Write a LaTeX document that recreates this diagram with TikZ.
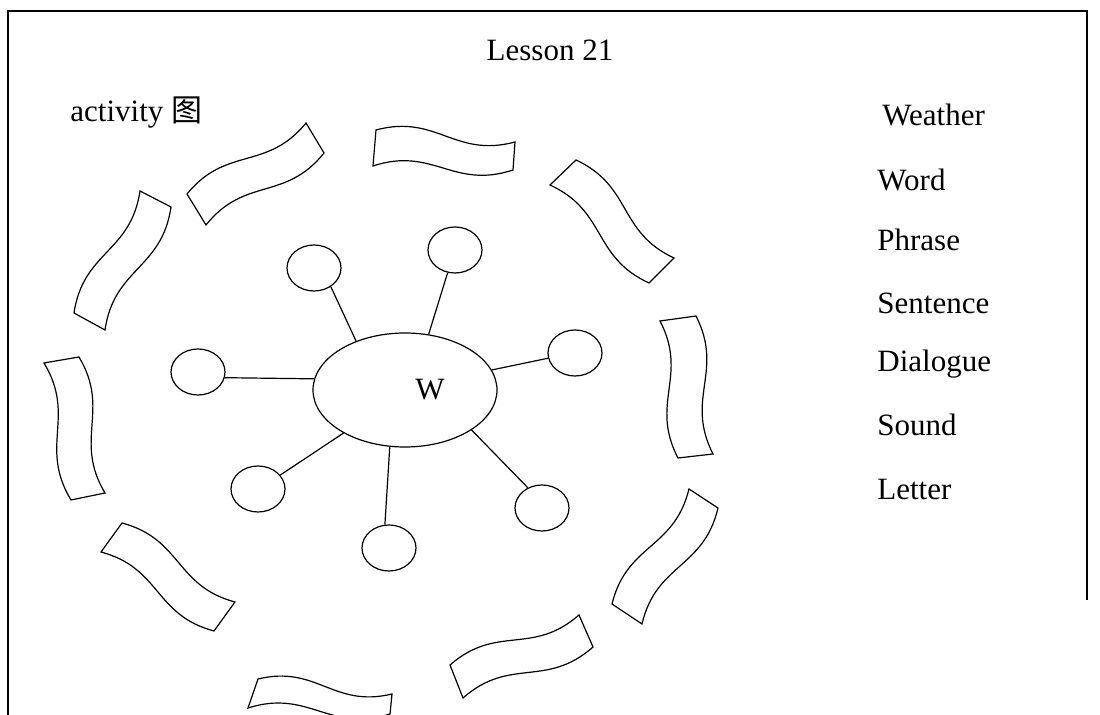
\documentclass[tikz,border=0pt]{standalone}
\usepackage{fontspec}
\setmainfont{Liberation Serif}
\newfontfamily\cjk{Noto Sans CJK SC}
\usetikzlibrary{calc, shapes.geometric}
\tikzset{
  ribbon/.style={
    draw,
    line width=0.6pt,
    fill=white
  },
  bubble/.style={
    draw,
    ellipse,
    line width=0.6pt,
    inner sep=0pt,
    minimum width=27pt,
    minimum height=23pt
  },
  spoke/.style={
    line width=0.6pt}
}
% wavy banner: #1--#2 and #3--#4 are the long edges
\newcommand{\banner}[4]{%
  \draw[ribbon] (#1) .. controls ($(#1)!0.45!20:(#2)$) and ($(#2)!0.45!20:(#1)$) .. (#2)
    -- (#3) .. controls ($(#3)!0.45!20:(#4)$) and ($(#4)!0.45!20:(#3)$) .. (#4) -- cycle;}

\begin{document}
\begin{tikzpicture}[
    x=0.5pt, y=-0.5pt,
    txt/.style={font=\fontsize{15.5}{18}\selectfont, inner sep=0pt},
    item/.style={txt, anchor=west}
]
\useasboundingbox (0,0) rectangle (1100,715);

% --- Frame ---
\draw[line width=0.8pt] (8,715) -- (8,11) -- (1087,11) -- (1087,600);

% --- Titles ---
\node[txt] (title) at (550,50) {Lesson 21};
\node[txt, anchor=west] (act) at (70,113) {activity {\cjk 图}};

% --- Word list ---
\node[item] (weather)  at (882,115) {Weather};
\node[item] (word)     at (877,180) {Word};
\node[item] (phrase)   at (877,240) {Phrase};
\node[item] (sentence) at (877,303) {Sentence};
\node[item] (dialogue) at (877,364) {Dialogue};
\node[item] (sound)    at (877,425) {Sound};
\node[item] (letter)   at (877,490) {Letter};

% --- Banners ---
\banner{187,194}{306,123}{324,153}{206,225}
\banner{376,130}{515,142}{513,170}{373,166}
\banner{576,160}{674,258}{649,283}{550,185}
\banner{660,321}{678,458}{713,454}{696,316}
\banner{689,489}{612,604}{642,624}{718,508}
\banner{450,665}{579,615}{593,647}{463,698}
\banner{258,679}{392,694}{390,714}{248,708}
\banner{122,523}{235,602}{214,631}{101,552}
\banner{44,363}{71,500}{105,493}{79,357}
\banner{140,191}{74,313}{105,330}{171,207}

% --- Centre and bubbles ---
\node[bubble, minimum width=92pt, minimum height=57pt] (w) at (405,390) {};
\node[txt] (wlabel) at (430,390) {W};
\node[bubble] (c1) at (314,268) {};
\node[bubble] (c2) at (455,250) {};
\node[bubble] (c3) at (575,353) {};
\node[bubble] (c4) at (198,372) {};
\node[bubble] (c5) at (258,489) {};
\node[bubble] (c6) at (389,548) {};
\node[bubble] (c7) at (542,508) {};

% --- Spokes ---
\draw[spoke] (c1.-48)  -- (w.135);
\draw[spoke] (c2.-108) -- (w.67);
\draw[spoke] (c3.191)  -- (w.13);
\draw[spoke] (c4.-12)  -- (w.173);
\draw[spoke] (c5.32)   -- (w.215);
\draw[spoke] (c6.100)  -- (w.255);
\draw[spoke] (c7.125)  -- (w.-31);

\end{tikzpicture}
\end{document}
